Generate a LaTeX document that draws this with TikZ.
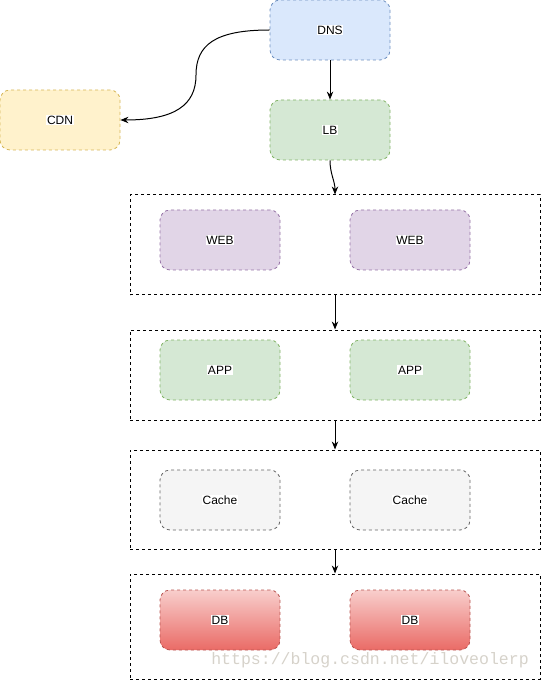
\documentclass[tikz,border=0pt]{standalone}
\usepackage{fontspec}
\setmainfont{Liberation Sans}
\newfontfamily\wmfont{Liberation Mono}
\usetikzlibrary{arrows.meta}

\definecolor{dnsfill}{HTML}{DAE8FC}
\definecolor{dnsline}{HTML}{6C8EBF}
\definecolor{greenfill}{HTML}{D5E8D4}
\definecolor{greenline}{HTML}{82B366}
\definecolor{cdnfill}{HTML}{FFF2CC}
\definecolor{cdnline}{HTML}{D6B656}
\definecolor{webfill}{HTML}{E1D5E7}
\definecolor{webline}{HTML}{9673A6}
\definecolor{cachefill}{HTML}{F5F5F5}
\definecolor{cacheline}{HTML}{666666}
\definecolor{dbtop}{HTML}{F8CECC}
\definecolor{dbbottom}{HTML}{EA6B66}
\definecolor{dbline}{HTML}{B85450}
\definecolor{wmgray}{RGB}{214,210,202}

% 文字后面的白底
\newcommand{\lbl}[1]{{\setlength{\fboxsep}{0.6pt}\colorbox{white}{#1}}}

\begin{document}
\begin{tikzpicture}[>={Stealth[length=6pt,width=4.8pt]}, x=0.75pt, y=-0.75pt,
	box/.style={rounded corners=7.5pt, dash pattern=on 2.25pt off 2.25pt, line width=0.6pt,
		minimum width=90pt, minimum height=45pt, inner sep=0pt, font=\fontsize{9}{11}\selectfont},
	grp/.style={draw=black, dash pattern=on 2.25pt off 2.25pt, line width=0.75pt,
		minimum width=307.5pt, inner sep=0pt},
	link/.style={->, line width=0.75pt, black}]
		% 画布大小
		\useasboundingbox (0,0) rectangle (541,680);
		
		% 顶部:DNS、LB、CDN
		\node[box, draw=dnsline, fill=dnsfill] (dns) at (330,30) {\lbl{DNS}};
		\node[box, draw=greenline, fill=greenfill] (lb) at (330,130) {\lbl{LB}};
		\node[box, draw=cdnline, fill=cdnfill] (cdn) at (60,120) {\lbl{CDN}};
		
		% 四个虚线分组框
		\node[grp, minimum height=75pt] (webgrp) at (335,245) {};
		\node[grp, minimum height=67.5pt] (appgrp) at (335,375) {};
		\node[grp, minimum height=74.25pt] (cachegrp) at (335,499.5) {};
		\node[grp, minimum height=78.75pt] (dbgrp) at (335,626.5) {};
		
		% WEB 层
		\node[box, draw=webline, fill=webfill] (web1) at (220,240) {\lbl{WEB}};
		\node[box, draw=webline, fill=webfill] (web2) at (410,240) {\lbl{WEB}};
		
		% APP 层
		\node[box, draw=greenline, fill=greenfill] (app1) at (220,370) {\lbl{APP}};
		\node[box, draw=greenline, fill=greenfill] (app2) at (410,370) {\lbl{APP}};
		
		% Cache 层
		\node[box, draw=cacheline, fill=cachefill] (cache1) at (220,500) {\lbl{Cache}};
		\node[box, draw=cacheline, fill=cachefill] (cache2) at (410,500) {\lbl{Cache}};
		
		% DB 层(上浅下深的渐变)
		\node[box, draw=dbline, top color=dbtop, bottom color=dbbottom] (db1) at (220,620) {\lbl{DB}};
		\node[box, draw=dbline, top color=dbtop, bottom color=dbbottom] (db2) at (410,620) {\lbl{DB}};
		
		% 连线(DNS 到 CDN 的弯线经过 bend 点)
		\coordinate (bend) at (196,75);
		\draw[link] (dns.west) .. controls (215,30) and (196,45) .. (bend)
			.. controls (196,105) and (175,120) .. (cdn.east);
		\draw[link] (dns) -- (lb);
		\draw[link] (lb.south) to[out=-90, in=90] (webgrp.north);
		\draw[link] (webgrp) -- (appgrp);
		\draw[link] (appgrp) -- (cachegrp);
		\draw[link] (cachegrp) -- (dbgrp);
		
		% 水印
		\node[text=wmgray, font=\wmfont\fontsize{12.4}{14}\selectfont, inner sep=0pt] (wmark) at (370,660) {https://blog.csdn.net/iloveolerp};
	\end{tikzpicture}
\end{document}
